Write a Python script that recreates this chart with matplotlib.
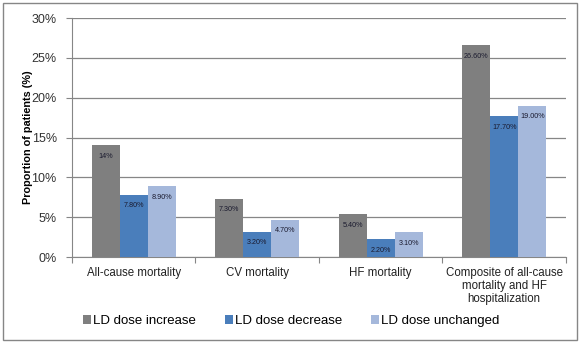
import matplotlib.pyplot as plt
import numpy as np
from matplotlib.patches import Rectangle

plt.rcParams['font.family'] = ['Liberation Sans', 'DejaVu Sans']

# outcome categories and the share of patients per LD dose group
categories = ["All-cause mortality", "CV mortality", "HF mortality",
              "Composite of all-cause\nmortality and HF\nhospitalization"]
series_names = ["LD dose increase", "LD dose decrease", "LD dose unchanged"]
increase = [14.0, 7.3, 5.4, 26.6]
decrease = [7.8, 3.2, 2.2, 17.7]
unchanged = [8.9, 4.7, 3.1, 19.0]
value_labels = [
    ["14%", "7.30%", "5.40%", "26.60%"],
    ["7.80%", "3.20%", "2.20%", "17.70%"],
    ["8.90%", "4.70%", "3.10%", "19.00%"],
]
colors = ["#7f7f7f", "#4a7ebb", "#a5b8db"]

fig = plt.figure(figsize=(5.82, 3.43), dpi=100)
ax = fig.add_axes([0.1237, 0.2507, 0.9725 - 0.1237, 0.9475 - 0.2507])

# grey frame around the whole chart
fig.patches.append(Rectangle((3 / 582, 3 / 343), 574 / 582, 337 / 343,
                             transform=fig.transFigure, fill=False,
                             edgecolor="#868686", linewidth=1.0))

x = np.arange(len(categories))
width = 0.227
for i, (vals, name) in enumerate(zip([increase, decrease, unchanged], series_names)):
    bars = ax.bar(x + (i - 1) * width, vals, width, color=colors[i], label=name,
                  zorder=3)
    for b, lab in zip(bars, value_labels[i]):
        ax.annotate(lab, (b.get_x() + b.get_width() / 2, b.get_height()),
                    xytext=(0, -8), textcoords="offset points",
                    ha="center", va="center", fontsize=5.2, color="#1a1a2e",
                    zorder=4)

ax.set_xlim(-0.5, 3.5)
ax.set_ylim(0, 30)
ax.set_yticks(np.arange(0, 31, 5))
ax.set_yticklabels([f"{v}%" for v in range(0, 31, 5)], fontsize=9,
                   color="#333333")
ax.yaxis.grid(True, color="#868686", linewidth=0.9, zorder=0)
ax.set_axisbelow(True)

# category boundaries carry the ticks, names sit in between
ax.set_xticks(np.arange(-0.5, 4, 1))
ax.set_xticklabels([])
ax.set_xticks(x, minor=True)
ax.set_xticklabels(categories, minor=True, fontsize=8.3, linespacing=1.1,
                   va="top", color="#222222")
ax.tick_params(axis="x", which="minor", length=0, pad=7)
ax.tick_params(axis="x", which="major", length=4, color="#868686")
ax.tick_params(axis="y", length=4, color="#868686", pad=7)

for side in ["top", "right"]:
    ax.spines[side].set_visible(False)
for side in ["left", "bottom"]:
    ax.spines[side].set_color("#868686")

ax.set_ylabel("Proportion of patients (%)", fontsize=7.8, fontweight="bold")
ax.yaxis.set_label_coords(-0.079, 0.5)

fig.legend(loc="center", bbox_to_anchor=(0.5, 1 - 321 / 343), ncol=3,
           frameon=False, fontsize=9.5, handlelength=0.6, handleheight=0.6,
           handletextpad=0.15, columnspacing=2.2)

fig.savefig("out.png", dpi=100)
